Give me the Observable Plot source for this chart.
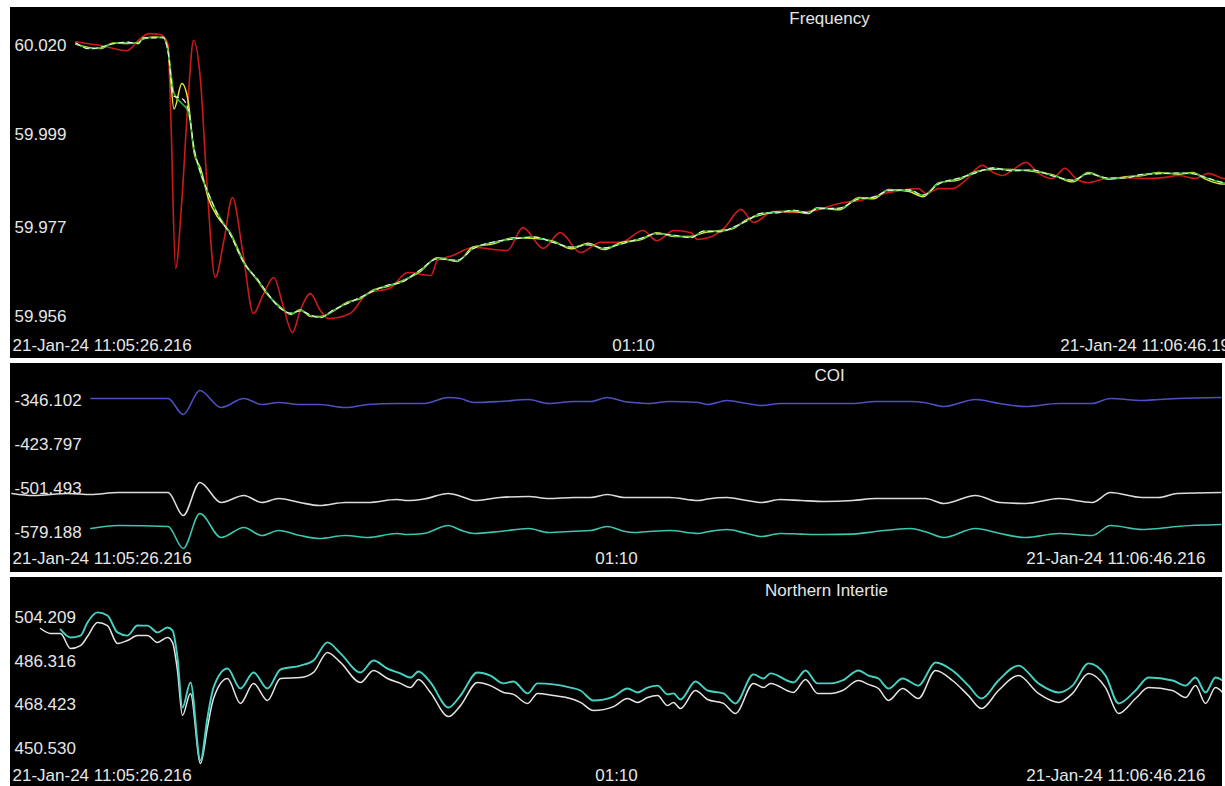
<!DOCTYPE html>
<html>
<head>
<meta charset="utf-8">
<script src="https://cdn.jsdelivr.net/npm/d3@7"></script>
<script src="https://cdn.jsdelivr.net/npm/@observablehq/plot@0.6"></script>
<style>
  html, body { margin: 0; padding: 0; background: #fff; }
  body { width: 1225px; height: 786px; position: relative; overflow: hidden; }
  .panel { position: absolute; left: 10px; background: #000; overflow: hidden; }
  #freq { top: 7px; width: 1215px; height: 351px; }
  #coi  { top: 363px; width: 1212px; height: 209px; }
  #tie  { top: 577px; width: 1212px; height: 209px; }
  .panel svg { display: block; max-width: none !important; }
</style>
</head>
<body>
<div id="freq" class="panel"></div>
<div id="coi" class="panel"></div>
<div id="tie" class="panel"></div>
<script>
// ---- time axis (seconds after 21-Jan-24 11:05:26.216) ----
const timeDomain = [0, 80];
const xLabelsFreq = ["21-Jan-24 11:05:26.216", "01:10", "21-Jan-24 11:06:46.196"];
const xLabels = ["21-Jan-24 11:05:26.216", "01:10", "21-Jan-24 11:06:46.216"];

// ---- Frequency (Hz) ----
const freqTicks = [60.020, 59.999, 59.977, 59.956];
const freqT = [
  4.2, 5.1, 5.8, 6.6, 7.5, 8.2, 8.5, 9.2, 9.8, 10.1,
  10.5, 11.0, 11.4, 11.8, 12.2, 12.7, 13.3, 14.1, 15.0, 15.9,
  16.5, 17.3, 18.0, 18.6, 19.3, 19.9, 20.7, 21.6, 22.5, 23.3,
  24.2, 25.0, 26.3, 27.4, 28.7, 29.7, 31.0, 32.3, 33.6, 34.9,
  36.0, 37.1, 38.1, 39.2, 40.5, 41.5, 42.6, 43.7, 44.5, 45.6,
  46.4, 47.3, 48.2, 49.3, 50.3, 51.2, 51.8, 53.2, 54.5, 55.4,
  56.4, 57.7, 58.6, 59.6, 60.9, 61.8, 63.1, 64.3, 65.6, 66.9,
  68.2, 69.2, 70.5, 71.6, 72.7, 73.7, 75.0, 75.9, 76.7, 77.8,
  79.0, 80.0
];
const freqGreen = [
  60.0205, 60.0193, 60.0195, 60.0205, 60.0207, 60.0205, 60.0217, 60.0219, 60.0219, 60.0190,
  60.0087, 60.0063, 60.0046, 59.9952, 59.9898, 59.9850, 59.9803, 59.9756, 59.9685, 59.9645,
  59.9614, 59.9581, 59.9567, 59.9574, 59.9562, 59.9558, 59.9574, 59.9591, 59.9605, 59.9621,
  59.9633, 59.9640, 59.9669, 59.9697, 59.9692, 59.9721, 59.9735, 59.9744, 59.9747, 59.9735,
  59.9723, 59.9730, 59.9721, 59.9732, 59.9744, 59.9756, 59.9751, 59.9747, 59.9761, 59.9761,
  59.9770, 59.9787, 59.9803, 59.9806, 59.9810, 59.9806, 59.9815, 59.9815, 59.9839, 59.9841,
  59.9858, 59.9858, 59.9846, 59.9874, 59.9886, 59.9898, 59.9910, 59.9905, 59.9905, 59.9893,
  59.9881, 59.9898, 59.9886, 59.9888, 59.9895, 59.9898, 59.9898, 59.9898, 59.9888, 59.9876,
  59.9872, 59.9874
];
const freqYellow = [
  60.0203, 60.0195, 60.0193, 60.0206, 60.0205, 60.0207, 60.0215, 60.0220, 60.0218, 60.0195,
  60.0050, 60.0110, 60.0070, 59.9945, 59.9910, 59.9840, 59.9795, 59.9758, 59.9688, 59.9643,
  59.9612, 59.9583, 59.9565, 59.9576, 59.9560, 59.9560, 59.9572, 59.9593, 59.9603, 59.9623,
  59.9631, 59.9642, 59.9666, 59.9699, 59.9690, 59.9724, 59.9732, 59.9746, 59.9745, 59.9737,
  59.9720, 59.9733, 59.9718, 59.9735, 59.9742, 59.9758, 59.9749, 59.9749, 59.9758, 59.9763,
  59.9768, 59.9789, 59.9800, 59.9808, 59.9808, 59.9803, 59.9817, 59.9812, 59.9841, 59.9838,
  59.9860, 59.9855, 59.9843, 59.9876, 59.9883, 59.9900, 59.9908, 59.9907, 59.9903, 59.9895,
  59.9878, 59.9900, 59.9884, 59.9890, 59.9893, 59.9900, 59.9896, 59.9900, 59.9885, 59.9873,
  59.9874, 59.9872
];
const freqWhite = [
  60.0206, 60.0192, 60.0196, 60.0204, 60.0208, 60.0204, 60.0218, 60.0218, 60.0220, 60.0188,
  60.0080, 60.0075, 60.0050, 59.9955, 59.9900, 59.9852, 59.9801, 59.9754, 59.9686, 59.9646,
  59.9615, 59.9580, 59.9568, 59.9573, 59.9563, 59.9557, 59.9575, 59.9590, 59.9606, 59.9620,
  59.9634, 59.9639, 59.9670, 59.9696, 59.9693, 59.9720, 59.9736, 59.9743, 59.9748, 59.9734,
  59.9724, 59.9729, 59.9722, 59.9731, 59.9745, 59.9755, 59.9752, 59.9746, 59.9762, 59.9760,
  59.9771, 59.9786, 59.9804, 59.9805, 59.9811, 59.9805, 59.9814, 59.9816, 59.9838, 59.9842,
  59.9857, 59.9859, 59.9847, 59.9873, 59.9887, 59.9897, 59.9911, 59.9904, 59.9906, 59.9892,
  59.9882, 59.9897, 59.9887, 59.9887, 59.9896, 59.9897, 59.9899, 59.9897, 59.9889, 59.9877,
  59.9871, 59.9875
];
const freqRedT = [
  4.2, 5.8, 7.5, 8.2, 8.9, 9.6, 10.1, 10.3, 10.6, 11.0,
  11.4, 11.75, 12.2, 12.6, 13.15, 13.7, 14.25, 14.9, 15.6, 16.2,
  16.9, 17.5, 18.1, 18.6, 19.25, 19.9, 20.4, 21.8, 22.9, 24.4,
  25.5, 27.0, 27.4, 28.4, 29.7, 31.9, 32.9, 34.2, 35.3, 36.6,
  37.9, 39.2, 40.6, 41.5, 42.6, 43.7, 44.1, 44.9, 45.8, 46.9,
  47.7, 49.0, 50.5, 51.6, 53.2, 54.5, 56.4, 58.3, 58.8, 59.6,
  60.5, 61.3, 62.4, 63.1, 63.7, 64.3, 65.2, 66.0, 66.9, 67.7,
  68.4, 69.2, 70.3, 71.4, 72.7, 74.0, 75.0, 76.1, 76.9, 77.9,
  80.0
];
const freqRed = [
  60.0209, 60.0200, 60.0188, 60.0212, 60.0228, 60.0226, 60.0205, 60.0023, 59.9673, 59.9834,
  60.0070, 60.0212, 60.0117, 59.9881, 59.9652, 59.9739, 59.9841, 59.9716, 59.9567, 59.9610,
  59.9652, 59.9586, 59.9522, 59.9574, 59.9614, 59.9574, 59.9555, 59.9567, 59.9614, 59.9628,
  59.9664, 59.9657, 59.9692, 59.9704, 59.9723, 59.9716, 59.9770, 59.9721, 59.9758, 59.9711,
  59.9735, 59.9735, 59.9763, 59.9739, 59.9763, 59.9758, 59.9742, 59.9747, 59.9768, 59.9813,
  59.9782, 59.9808, 59.9806, 59.9810, 59.9827, 59.9834, 59.9853, 59.9862, 59.9850, 59.9862,
  59.9862, 59.9881, 59.9917, 59.9900, 59.9893, 59.9905, 59.9924, 59.9898, 59.9886, 59.9910,
  59.9886, 59.9876, 59.9886, 59.9888, 59.9886, 59.9888, 59.9893, 59.9886, 59.9898, 59.9886,
  59.9881
];

// ---- COI (MW) ----
const coiTicks = [-346.102, -423.797, -501.493, -579.188];
const coiT = [
  0.1, 1.5, 3.8, 5.3, 7.1, 10.4, 11.4, 12.5, 13.9, 15.4,
  16.6, 17.7, 19.1, 20.4, 22.1, 23.6, 25.5, 26.2, 27.3, 28.9,
  29.7, 30.6, 32.3, 34.2, 35.5, 37.2, 38.3, 39.4, 40.5, 41.1,
  42.1, 43.5, 45.4, 46.0, 47.3, 48.6, 49.6, 50.8, 52.2, 53.7,
  55.6, 57.1, 59.4, 60.4, 61.6, 63.7, 65.3, 67.0, 69.2, 71.4,
  72.6, 74.7, 75.8, 77.0, 79.9
];
const coiBlue = [
  null, null, null, -342.6, -342.6, -342.6, -370.8, -328.4, -358.5, -342.6,
  -353.2, -349.6, -353.2, -353.2, -358.5, -353.2, -351.4, -351.4, -351.4, -340.8,
  -342.6, -349.6, -347.9, -344.3, -351.4, -347.9, -347.9, -340.8, -347.9, -349.6,
  -351.4, -347.9, -349.6, -353.2, -346.1, -351.4, -354.9, -351.4, -351.4, -351.4,
  -351.4, -347.9, -347.9, -350.0, -356.7, -344.3, -351.4, -356.7, -351.4, -351.4,
  -342.6, -346.1, -344.3, -342.6, -340.8
];
const coiWhite = [
  -510.3, -513.9, -510.3, -512.1, -508.6, -508.6, -549.2, -490.9, -526.2, -513.9,
  -526.2, -519.2, -526.2, -531.5, -526.2, -526.2, -520.9, -522.7, -520.0, -510.3,
  -515.0, -522.7, -517.4, -515.6, -519.2, -517.4, -517.4, -512.1, -517.4, -517.4,
  -517.4, -517.4, -522.7, -520.0, -517.4, -522.7, -526.2, -520.9, -522.7, -524.5,
  -522.7, -519.2, -519.2, -519.2, -528.0, -513.9, -526.2, -528.0, -519.2, -526.2,
  -508.6, -517.4, -517.4, -510.3, -508.6
];
const coiTeal = [
  null, null, null, -572.1, -566.8, -568.6, -607.4, -545.6, -588.0, -570.4,
  -584.5, -575.7, -584.5, -589.8, -584.5, -588.0, -580.9, -582.7, -580.9, -566.8,
  -575.0, -580.9, -577.4, -572.1, -579.2, -577.0, -575.7, -568.6, -577.0, -579.2,
  -577.4, -575.7, -580.9, -578.0, -573.9, -580.9, -586.3, -580.9, -582.0, -582.7,
  -582.0, -577.4, -572.1, -578.0, -588.0, -572.1, -580.9, -588.0, -580.9, -584.5,
  -566.8, -573.9, -572.0, -568.6, -565.1
];

// ---- Northern Intertie (MW) ----
const tieTicks = [504.209, 486.316, 468.423, 450.530];
const tieT = [
  1.98, 2.64, 3.30, 3.96, 4.62, 5.08, 5.74, 6.40, 7.06, 7.72,
  8.38, 9.04, 9.70, 10.36, 10.69, 11.02, 11.35, 11.88, 12.54, 13.00,
  13.40, 14.32, 15.18, 16.04, 16.96, 17.82, 19.14, 20.00, 20.92, 21.78,
  23.10, 23.96, 24.88, 25.74, 26.40, 26.93, 27.72, 28.91, 29.70, 30.82,
  31.68, 32.54, 33.20, 34.13, 34.79, 35.84, 36.96, 37.62, 38.48, 39.80,
  40.73, 41.39, 42.05, 42.71, 43.37, 43.76, 44.22, 45.21, 46.01, 47.06,
  47.85, 49.04, 49.70, 50.17, 51.68, 52.48, 53.27, 54.13, 54.92, 55.97,
  56.63, 57.29, 57.95, 58.88, 59.93, 61.06, 62.18, 63.23, 64.09, 65.21,
  66.53, 67.85, 69.17, 70.10, 71.16, 72.28, 73.14, 74.26, 75.12, 76.70,
  77.56, 78.22, 78.88, 79.54, 80.00
];
const tieTeal = [
  null, null, 499.3, 496.0, 496.8, 502.2, 506.3, 505.0, 498.1, 496.8,
  500.9, 500.9, 498.1, 500.1, 498.9, 487.8, 467.3, 477.6, 445.6, 463.2,
  475.5, 483.3, 475.1, 481.7, 475.1, 482.9, 484.5, 486.6, 494.0, 489.5,
  481.7, 486.6, 483.3, 481.3, 479.6, 482.1, 477.6, 467.3, 472.2, 481.7,
  480.4, 477.2, 478.0, 473.1, 477.2, 476.8, 475.5, 474.3, 470.2, 471.8,
  475.1, 473.5, 475.5, 476.3, 472.7, 473.1, 470.6, 478.0, 474.3, 473.1,
  469.0, 480.9, 479.2, 481.3, 477.6, 482.5, 477.2, 477.2, 478.4, 482.5,
  480.4, 479.2, 475.1, 479.2, 476.3, 485.8, 482.5, 476.3, 471.0, 478.4,
  484.5, 477.2, 473.5, 476.3, 485.4, 480.4, 469.0, 474.3, 479.6, 478.4,
  476.3, 479.6, 473.5, 479.6, 478.4
];
const tieWhite = [
  499.7, 497.7, 497.7, 491.5, 492.7, 496.4, 502.2, 500.9, 493.6, 494.8,
  496.8, 496.8, 494.0, 496.0, 494.0, 482.5, 464.1, 473.1, 444.4, 459.1,
  471.0, 479.2, 469.0, 477.2, 470.2, 479.2, 479.6, 481.7, 489.9, 485.8,
  477.6, 482.5, 479.2, 477.2, 475.5, 478.8, 473.5, 463.6, 468.1, 477.6,
  476.3, 473.5, 472.7, 469.0, 473.1, 472.2, 471.0, 469.4, 466.1, 467.7,
  471.0, 469.4, 471.4, 472.2, 468.1, 469.4, 466.9, 474.3, 470.6, 469.0,
  464.9, 477.2, 475.5, 477.2, 473.5, 478.8, 473.1, 473.1, 474.3, 478.4,
  476.8, 475.1, 470.2, 475.1, 471.0, 482.5, 478.4, 472.2, 466.9, 474.3,
  480.4, 473.1, 469.4, 473.1, 481.3, 475.5, 464.9, 471.0, 475.5, 474.3,
  471.4, 476.3, 469.0, 475.5, 473.5
];

// ---- drawing ----
const TEXT = "#e6e6e6";
const FONT = "'Liberation Sans', Arial, sans-serif";
const fmt = d => d.toFixed(3); // plain hyphen-minus, three decimals

function trace(T, V, stroke, strokeWidth, extra = {}) {
  return Plot.line(d3.range(T.length), {
    x: i => T[i], y: i => V[i],
    stroke, strokeWidth, curve: "monotone-x", strokeLinejoin: "round",
    ...extra
  });
}

function strip({width, height, marginTop, marginBottom, ticks, title, titleDx, titleDy, labels, footDy, lines}) {
  const [first, middle, last] = labels;
  const txt = {fill: TEXT, fontSize: 17, lineAnchor: "middle"};
  return Plot.plot({
    width, height,
    marginLeft: 0, marginRight: 0, marginTop, marginBottom,
    style: {background: "#000", fontFamily: FONT, maxWidth: "none", overflow: "visible"},
    x: {domain: timeDomain, axis: null},
    y: {domain: [ticks[ticks.length - 1], ticks[0]], axis: null},
    marks: [
      ...lines,
      Plot.text(ticks, {y: d => d, text: fmt, frameAnchor: "left", textAnchor: "start", dx: 4, ...txt}),
      Plot.text([title], {text: d => d, frameAnchor: "top-left", dx: titleDx, dy: titleDy, textAnchor: "middle", ...txt}),
      Plot.text([0], {x: d => d, text: () => first, frameAnchor: "bottom", dy: footDy, dx: 2, textAnchor: "start", ...txt}),
      Plot.text([40], {x: d => d, text: () => middle, frameAnchor: "bottom", dy: footDy, textAnchor: "middle", ...txt}),
      Plot.text([80], {x: d => d, text: () => last, frameAnchor: "bottom", dy: footDy, dx: -17, textAnchor: "end", ...txt})
    ]
  });
}

document.getElementById("freq").append(strip({
  width: 1246, height: 351, marginTop: 38, marginBottom: 42,
  ticks: freqTicks, title: "Frequency", titleDx: 819, titleDy: -27,
  labels: xLabelsFreq, footDy: 29,
  lines: [
    trace(freqRedT, freqRed, "#cc1a1a", 1.6),
    trace(freqT, freqYellow, "#e8e83a", 1.5),
    trace(freqT, freqGreen, "#2fb52f", 1.6),
    trace(freqT, freqWhite, "#f4f4f4", 1.1, {strokeDasharray: "5 4"})
  ]
}));

document.getElementById("coi").append(strip({
  width: 1212, height: 209, marginTop: 37, marginBottom: 40,
  ticks: coiTicks, title: "COI", titleDx: 819, titleDy: -25,
  labels: xLabels, footDy: 26,
  lines: [
    trace(coiT, coiBlue, "#4f4fc4", 1.6),
    trace(coiT, coiWhite, "#dcdcdc", 1.6),
    trace(coiT, coiTeal, "#3cc6ae", 1.6)
  ]
}));

document.getElementById("tie").append(strip({
  width: 1212, height: 209, marginTop: 40, marginBottom: 38,
  ticks: tieTicks, title: "Northern Intertie", titleDx: 816, titleDy: -27,
  labels: xLabels, footDy: 27,
  lines: [
    trace(tieT, tieWhite, "#e4e4e4", 1.5),
    trace(tieT, tieTeal, "#45d2c2", 1.9)
  ]
}));
</script>
</body>
</html>
